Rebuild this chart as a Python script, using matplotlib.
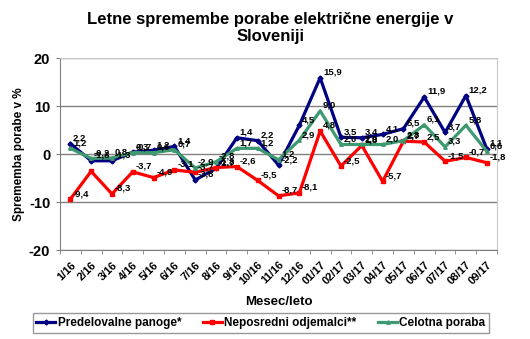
import numpy as np
import matplotlib
matplotlib.use("Agg")
import matplotlib.pyplot as plt

plt.rcParams['font.family'] = ['Liberation Sans', 'DejaVu Sans']
plt.rcParams['font.weight'] = 'bold'
plt.rcParams['axes.unicode_minus'] = False

months = ['1/16', '2/16', '3/16', '4/16', '5/16', '6/16', '7/16', '8/16', '9/16',
          '10/16', '11/16', '12/16', '01/17', '02/17', '03/17', '04/17', '05/17',
          '06/17', '07/17', '08/17', '09/17']

# values
predelovalne = [2.2, -1.4, -1.4, 0.4, 0.8, 1.6, -5.4, -3.0, 3.4, 2.8, -2.3, 6.0,
                15.9, 3.5, 3.4, 4.1, 5.3, 11.9, 4.5, 12.2, 1.1]
neposredni = [-9.4, -3.6, -8.3, -3.7, -4.9, -3.3, -3.8, -2.8, -2.6, -5.5, -8.7, -8.1,
              4.8, -2.5, 1.8, -5.7, 2.7, 2.5, -1.5, -0.7, -1.8]
celotna = [1.2, -0.9, -0.8, 0.3, 0.3, 0.9, -2.9, -1.6, 1.2, 1.2, -1.2, 2.9,
           9.0, 2.0, 2.0, 2.0, 2.8, 6.1, 1.5, 6.0, 0.6]

# data labels as printed on the chart
lab_predelovalne = ['2,2', '-1,3', '-1,3', '0,3', '1,2', '1,4', '-3,8', '-2,7', '1,4', '2,2', '-2,2', '4,5',
                    '15,9', '3,5', '3,4', '4,1', '5,5', '11,9', '3,7', '12,2', '1,1']
lab_neposredni = ['-9,4', None, '-8,3', '-3,7', '-4,9', '-3,1', '-3,7', '-1,8', '-2,6', '-5,5', '-8,7', '-8,1',
                  '4,8', '-2,5', '1,8', '-5,7', '2,7', '2,5', '-1,5', '-0,7', '-1,8']
lab_celotna = ['1,2', '-0,2', '0,8', '-0,7', '0,6', '0,7', '-2,9', '-2,8', '1,7', '1,2', '1,2', '2,9',
               '9,0', '2,0', '2,0', '2,0', '2,8', '6,1', '3,3', '5,8', '0,6']

series = [
    ('Predelovalne panoge*', predelovalne, lab_predelovalne, '#000080', 'D'),
    ('Neposredni odjemalci**', neposredni, lab_neposredni, '#ff0000', 's'),
    ('Celotna poraba', celotna, lab_celotna, '#3d9970', '^'),
]

fig = plt.figure(figsize=(5.30, 3.39), dpi=100)
ax = fig.add_axes([0.113, 0.2625, 0.825, 0.566])

x = np.arange(len(months))
for name, vals, labs, col, mk in series:
    ax.plot(x, vals, color=col, lw=2.3, marker=mk, markersize=2.5, label=name, zorder=3)
    for xi, v, t in zip(x, vals, labs):
        if t is None:
            continue
        ax.annotate(t, (xi, v), xytext=(2, 4), textcoords='offset points',
                    ha='left', va='center', fontsize=6.8, fontweight='bold', zorder=4)

ax.set_xlim(-0.5, len(months) - 0.5)
ax.set_ylim(-20, 20)
ax.set_yticks([-20, -10, 0, 10, 20])
ax.yaxis.grid(True, color='#808080', lw=1)
ax.set_axisbelow(True)
ax.tick_params(axis='y', labelsize=10.5, length=3, color='#808080', pad=4)
for t in ax.get_yticklabels():
    t.set_fontweight('bold')

ax.set_xticks(x)
ax.set_xticklabels(months, rotation=45, ha='right', rotation_mode='anchor', fontsize=8, fontweight='bold')
ax.set_xticks(np.arange(-0.5, len(months), 1), minor=True)
ax.tick_params(axis='x', which='major', length=0, pad=7)
ax.tick_params(axis='x', which='minor', length=3, color='#808080')

for s in ['top', 'right']:
    ax.spines[s].set_color('#c8c8c8')
ax.spines['left'].set_color('#808080')
ax.spines['bottom'].set_color('#808080')

ax.set_ylabel('Sprememba porabe v %', fontsize=8.5, fontweight='bold', labelpad=3)
ax.set_xlabel('Mesec/leto', fontsize=9.5, fontweight='bold', labelpad=7)

fig.text(0.51, 1 - 28 / 339, 'Letne spremembe porabe električne energije v\nSloveniji',
         ha='center', va='center', fontsize=12, fontweight='bold', linespacing=1.2)

fig.legend(loc='center', bbox_to_anchor=(27 / 530, 1 - 333 / 339, 468 / 530, 20 / 339),
           mode='expand', ncol=3, frameon=True, fancybox=False, edgecolor='#808080',
           prop={'size': 8.5, 'weight': 'bold'}, handlelength=1.6, handletextpad=0.2,
           borderpad=0.3, columnspacing=1.0)

fig.savefig('out.png', dpi=100)
